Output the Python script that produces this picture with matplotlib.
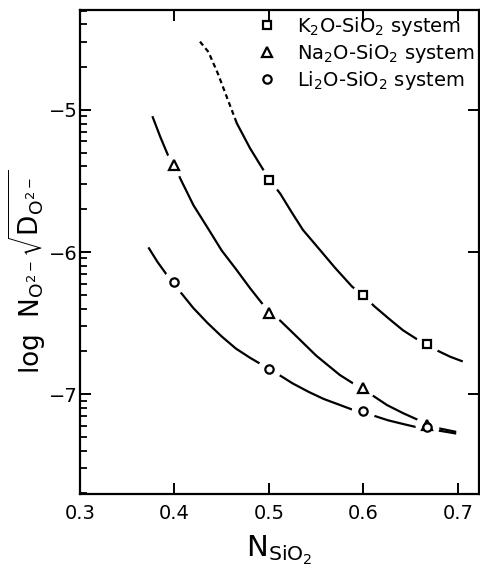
import numpy as np
import matplotlib
matplotlib.use("Agg")
import matplotlib.pyplot as plt

plt.rcParams["font.family"] = ["DejaVu Sans"]
plt.rcParams["mathtext.default"] = "regular"

# measured points (N_SiO2, log value)
x_pts = [0.4, 0.5, 0.6, 0.667]
k_pts = [None, -5.49, -6.30, -6.65]
na_pts = [-5.39, -6.43, -6.955, -7.22]
li_pts = [-6.21, -6.825, -7.12, -7.23]

# fitted curves
k_dash_x = [0.427, 0.436, 0.446, 0.456, 0.466]
k_dash_y = [-4.519, -4.592, -4.745, -4.920, -5.094]
k_curve_x = [0.466, 0.480, 0.492, 0.500, 0.512, 0.524, 0.536, 0.554, 0.570, 0.588,
             0.598, 0.612, 0.627, 0.642, 0.658, 0.667, 0.680, 0.692, 0.704]
k_curve_y = [-5.094, -5.270, -5.400, -5.486, -5.590, -5.720, -5.845, -5.986, -6.112, -6.244,
             -6.296, -6.385, -6.470, -6.552, -6.620, -6.655, -6.700, -6.738, -6.768]

na_curve_x = [0.377, 0.385, 0.393, 0.4005, 0.406, 0.420, 0.4365, 0.450, 0.465, 0.480,
              0.494, 0.501, 0.512, 0.530, 0.550, 0.575, 0.589, 0.599, 0.609, 0.625,
              0.642, 0.658, 0.667, 0.680, 0.697]
na_curve_y = [-5.051, -5.190, -5.317, -5.390, -5.481, -5.670, -5.845, -5.990, -6.120, -6.255,
              -6.373, -6.427, -6.484, -6.600, -6.730, -6.866, -6.925, -6.955, -7.007, -7.078,
              -7.135, -7.183, -7.218, -7.242, -7.265]

li_curve_x = [0.373, 0.382, 0.392, 0.4005, 0.406, 0.420, 0.435, 0.450, 0.465, 0.480,
              0.490, 0.499, 0.508, 0.525, 0.542, 0.558, 0.575, 0.5875, 0.599, 0.612,
              0.626, 0.640, 0.654, 0.666, 0.680, 0.697]
li_curve_y = [-5.974, -6.070, -6.162, -6.213, -6.280, -6.395, -6.500, -6.595, -6.680, -6.745,
              -6.784, -6.826, -6.854, -6.925, -6.985, -7.035, -7.077, -7.108, -7.120, -7.155,
              -7.185, -7.208, -7.230, -7.240, -7.258, -7.277]

labels = [r"K$_2$O-SiO$_2$ system", r"Na$_2$O-SiO$_2$ system", r"Li$_2$O-SiO$_2$ system"]

fig = plt.figure(figsize=(4.81, 5.66), dpi=100)
ax = fig.add_axes([80 / 481, 1 - 494 / 566, 399.5 / 481, 484 / 566])

lw = 1.6
ax.plot(k_dash_x, k_dash_y, color="black", lw=lw, ls=(0, (2.2, 1.6)), zorder=2)
ax.plot(k_curve_x, k_curve_y, color="black", lw=lw, zorder=2)
ax.plot(na_curve_x, na_curve_y, color="black", lw=lw, zorder=2)
ax.plot(li_curve_x, li_curve_y, color="black", lw=lw, zorder=2)

kx = [x for x, y in zip(x_pts, k_pts) if y is not None]
ky = [y for y in k_pts if y is not None]
series = [(kx, ky, "s", 6), (x_pts, na_pts, "^", 6.5), (x_pts, li_pts, "o", 6)]
handles = []
for (xs, ys, m, ms), lab in zip(series, labels):
    # white halo breaks the line around each point
    ax.plot(xs, ys, ls="none", marker="o", ms=17, mfc="white", mec="white",
            mew=0, zorder=3)
    h, = ax.plot(xs, ys, ls="none", marker=m, ms=ms, mfc="white", mec="black",
                 mew=1.6, zorder=4, label=lab)
    handles.append(h)

ax.legend(handles=handles, loc="upper right", frameon=False, fontsize=14,
          handlelength=1.3, handletextpad=0.9, labelspacing=0.2,
          borderpad=0.25, borderaxespad=0.0, bbox_to_anchor=(1.0, 1.0),
          markerfirst=True)

ax.set_xlim(0.3, 0.7228)
ax.set_ylim(-7.704, -4.296)
ax.set_xticks([0.3, 0.4, 0.5, 0.6, 0.7])
ax.set_xticklabels(["0.3", "0.4", "0.5", "0.6", "0.7"])
ax.set_yticks([-7, -6, -5])
ax.set_yticklabels(["\u22127", "\u22126", "\u22125"])

# log-style minor ticks on the left axis
minor = []
for dec in [-8, -7, -6, -5]:
    for k in range(2, 10):
        v = dec + np.log10(k)
        if -7.704 < v < -4.296:
            minor.append(v)
ax.yaxis.set_minor_locator(matplotlib.ticker.FixedLocator(minor))

ax.tick_params(axis="both", which="major", direction="in", length=8, width=1.4,
               labelsize=14, top=True, right=True)
ax.tick_params(axis="x", which="major", pad=7)
ax.tick_params(axis="y", which="major", pad=1.5)
ax.tick_params(axis="y", which="minor", direction="in", length=5, width=1.3,
               left=True, right=False)
for s in ax.spines.values():
    s.set_linewidth(1.6)

ax.set_xlabel(r"N$_{SiO_2}$", fontsize=21, labelpad=8)
fig.text(0.058, 0.52, r"log  N$_{O^{2-}}\sqrt{D_{O^{2-}}}$", fontsize=19,
         rotation=90, ha="center", va="center")

fig.savefig("out.png", dpi=100)
